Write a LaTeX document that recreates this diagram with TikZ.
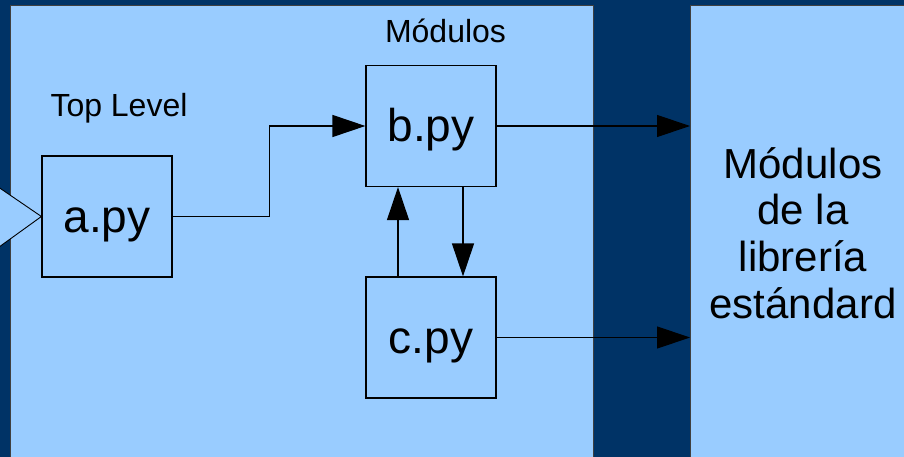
\documentclass[tikz,border=0pt]{standalone}
\usepackage{fontspec}
\setmainfont{Liberation Sans}
\usetikzlibrary{arrows.meta, positioning, calc}
\definecolor{navy}{HTML}{003366}
\definecolor{skyblue}{HTML}{99CCFF}

\begin{document}
\begin{tikzpicture}[
    x=1pt, y=-1pt,
    panel/.style={rectangle, draw=black!75, fill=skyblue, line width=0.9pt, inner sep=0pt},
    pybox/.style={rectangle, draw, fill=skyblue, line width=1.2pt, minimum width=130pt, minimum height=121pt, inner sep=0pt, text height=42pt, text depth=10pt, font=\fontsize{46}{52}\selectfont},
    lbl/.style={font=\fontsize{32}{38}\selectfont},
    arr/.style={-{Triangle[length=33pt, width=22pt]}, line width=1.2pt},
]
\useasboundingbox (0,0) rectangle (904,457);
\clip (0,0) rectangle (904,457);
\fill[navy] (0,0) rectangle (904,457);

% panels
\node[panel, anchor=north west, minimum width=583pt, minimum height=480pt] (toppanel) at (10,5) {};
\node[panel, anchor=north west, minimum width=240pt, minimum height=480pt] (stdpanel) at (690,5) {};

% modules
\node[pybox] (a) at (107,216.5) {a.py};
\node[pybox] (b) at (431,126) {b.py};
\node[pybox] (c) at (431,337.5) {c.py};

\node[lbl, anchor=base] (toplbl) at (119,117) {Top Level};
\node[lbl, anchor=base] (modlbl) at (445.5,43) {Módulos};
\node[font=\fontsize{42}{46.7}\selectfont, align=center] (stdtext) at (803,233)
    {Módulos\\de la\\librería\\estándard};

% input
\filldraw[fill=skyblue, draw=black, line width=0.9pt] (-12,180) -- (a.west) -- (-12,255);

% imports
\draw[arr] (a.east) -- ++(96.5,0) |- (b.west);
\draw[arr] ([xshift=-33pt]c.north) -- ([xshift=-33pt]b.south);
\draw[arr] ([xshift=32pt]b.south) -- ([xshift=32pt]c.north);
\draw[arr] (b.east) -- (b.east -| stdpanel.west);
\draw[arr] (c.east) -- (c.east -| stdpanel.west);

\end{tikzpicture}
\end{document}
